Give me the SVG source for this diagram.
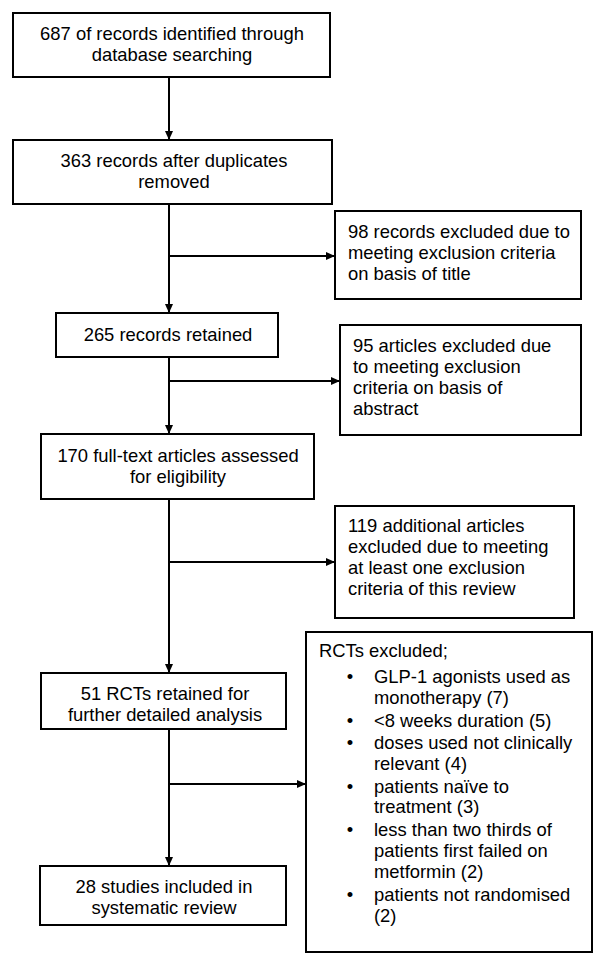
<svg xmlns="http://www.w3.org/2000/svg" width="600" height="960" viewBox="0 0 600 960">
<style>
.box{fill:#fff;stroke:#000;stroke-width:2}
.t{font-family:"Liberation Sans",Arial,sans-serif;font-size:18.4px;fill:#000}
.c{text-anchor:middle}
.conn{stroke:#000;stroke-width:2;fill:none}
</style>
<defs>
<marker id="ah" markerUnits="userSpaceOnUse" markerWidth="9" markerHeight="8" refX="9" refY="4" orient="auto">
<path d="M0,0 L9,4 L0,8 z" fill="#000"/>
</marker>
</defs>
<rect width="600" height="960" fill="#fff"/>
<g id="connectors">
<path class="conn" d="M169,77 V140" marker-end="url(#ah)"/>
<path class="conn" d="M169,204 V313" marker-end="url(#ah)"/>
<path class="conn" d="M169,256 H335" marker-end="url(#ah)"/>
<path class="conn" d="M169,357 V434" marker-end="url(#ah)"/>
<path class="conn" d="M169,381 H340" marker-end="url(#ah)"/>
<path class="conn" d="M169,499 V673" marker-end="url(#ah)"/>
<path class="conn" d="M169,562 H335" marker-end="url(#ah)"/>
<path class="conn" d="M169,729 V866" marker-end="url(#ah)"/>
<path class="conn" d="M169,784 H306" marker-end="url(#ah)"/>
</g>
<g id="n1">
<rect class="box" x="13" y="13" width="317" height="64"/>
<text class="t c" x="172" y="40">687 of records identified through</text>
<text class="t c" x="172" y="61">database searching</text>
</g>
<g id="n2">
<rect class="box" x="13" y="140" width="319" height="64"/>
<text class="t c" x="174" y="167">363 records after duplicates</text>
<text class="t c" x="174" y="188">removed</text>
</g>
<g id="n3">
<rect class="box" x="335" y="211" width="246" height="88"/>
<text class="t" x="348" y="238">98 records excluded due to</text>
<text class="t" x="348" y="259">meeting exclusion criteria</text>
<text class="t" x="348" y="280">on basis of title</text>
</g>
<g id="n4">
<rect class="box" x="56" y="313" width="222" height="44"/>
<text class="t c" x="168" y="341">265 records retained</text>
</g>
<g id="n5">
<rect class="box" x="340" y="325" width="241" height="110"/>
<text class="t" x="353" y="352">95 articles excluded due</text>
<text class="t" x="353" y="373">to meeting exclusion</text>
<text class="t" x="353" y="394">criteria on basis of</text>
<text class="t" x="353" y="415">abstract</text>
</g>
<g id="n6">
<rect class="box" x="41" y="434" width="273" height="65"/>
<text class="t c" x="178" y="462">170 full-text articles assessed</text>
<text class="t c" x="178" y="483">for eligibility</text>
</g>
<g id="n7">
<rect class="box" x="335" y="506" width="239" height="112"/>
<text class="t" x="348" y="532">119 additional articles</text>
<text class="t" x="348" y="553">excluded due to meeting</text>
<text class="t" x="348" y="574">at least one exclusion</text>
<text class="t" x="348" y="595">criteria of this review</text>
</g>
<g id="n8">
<rect class="box" x="41" y="673" width="245" height="56"/>
<text class="t c" x="165" y="700">51 RCTs retained for</text>
<text class="t c" x="165" y="721">further detailed analysis</text>
</g>
<g id="n9">
<rect class="box" x="306" y="632" width="286" height="320"/>
<text class="t" x="319" y="657">RCTs excluded;</text>
<text class="t c" x="350" y="683">•</text>
<text class="t" x="374" y="683">GLP-1 agonists used as</text>
<text class="t" x="374" y="704">monotherapy (7)</text>
<text class="t c" x="350" y="727">•</text>
<text class="t" x="374" y="727">&lt;8 weeks duration (5)</text>
<text class="t c" x="350" y="749">•</text>
<text class="t" x="374" y="749">doses used not clinically</text>
<text class="t" x="374" y="770">relevant (4)</text>
<text class="t c" x="350" y="793">•</text>
<text class="t" x="374" y="793">patients naïve to</text>
<text class="t" x="374" y="813">treatment (3)</text>
<text class="t c" x="350" y="836">•</text>
<text class="t" x="374" y="836">less than two thirds of</text>
<text class="t" x="374" y="857">patients first failed on</text>
<text class="t" x="374" y="878">metformin (2)</text>
<text class="t c" x="350" y="901">•</text>
<text class="t" x="374" y="901">patients not randomised</text>
<text class="t" x="374" y="922">(2)</text>
</g>
<g id="n10">
<rect class="box" x="40" y="866" width="246" height="59"/>
<text class="t c" x="164" y="893">28 studies included in</text>
<text class="t c" x="164" y="914">systematic review</text>
</g>
</svg>
